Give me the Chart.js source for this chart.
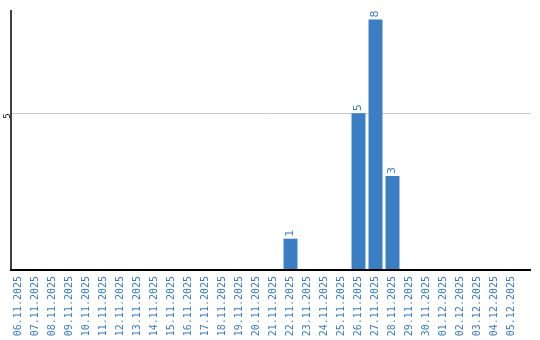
<!DOCTYPE html>
<html>
<head>
<meta charset="utf-8">
<script src="https://cdn.jsdelivr.net/npm/chart.js@4/dist/chart.umd.min.js"></script>
<style>
html,body{margin:0;padding:0;background:#fff;}
#wrap{width:540px;height:340px;position:relative;}
</style>
</head>
<body>
<div id="wrap"><canvas id="c" width="540" height="340"></canvas></div>
<script>
const categories = ["06.11.2025","07.11.2025","08.11.2025","09.11.2025","10.11.2025","11.11.2025","12.11.2025","13.11.2025","14.11.2025","15.11.2025","16.11.2025","17.11.2025","18.11.2025","19.11.2025","20.11.2025","21.11.2025","22.11.2025","23.11.2025","24.11.2025","25.11.2025","26.11.2025","27.11.2025","28.11.2025","29.11.2025","30.11.2025","01.12.2025","02.12.2025","03.12.2025","04.12.2025","05.12.2025"];
const values = [0,0,0,0,0,0,0,0,0,0,0,0,0,0,0,0,1,0,0,0,5,8,3,0,0,0,0,0,0,0];
const yTicks = [5];

const barColor = '#3b7ec3';
const labelColor = '#3a7bbf';

const extraLines = {
  id: 'extraLines',
  beforeDatasetsDraw(chart) {
    const ctx = chart.ctx, a = chart.chartArea, y = chart.scales.y;
    const right = a.left + 521;
    ctx.save();
    ctx.strokeStyle = '#c8c8c8';
    ctx.lineWidth = 1;
    yTicks.forEach(v => {
      const py = Math.round(y.getPixelForValue(v)) + 0.5;
      ctx.beginPath(); ctx.moveTo(a.left, py); ctx.lineTo(right, py); ctx.stroke();
    });
    ctx.restore();
  },
  afterDatasetsDraw(chart) {
    const ctx = chart.ctx, a = chart.chartArea, y = chart.scales.y;
    const right = a.left + 521;
    ctx.save();
    ctx.strokeStyle = '#000';
    const py0 = Math.round(y.getPixelForValue(0));
    ctx.lineWidth = 2;
    ctx.beginPath(); ctx.moveTo(a.left, py0); ctx.lineTo(right, py0); ctx.stroke();
    ctx.lineWidth = 1.5;
    ctx.beginPath(); ctx.moveTo(a.left + 1, a.top); ctx.lineTo(a.left + 1, py0); ctx.stroke();
    ctx.fillStyle = labelColor;
    ctx.font = '11px "DejaVu Sans"';
    ctx.textAlign = 'left';
    ctx.textBaseline = 'middle';
    const meta = chart.getDatasetMeta(0);
    meta.data.forEach((bar, i) => {
      const v = values[i];
      if (!v) return;
      ctx.save();
      ctx.translate(bar.x, bar.y - 2);
      ctx.rotate(-Math.PI / 2);
      ctx.fillText(String(v), 0, 0);
      ctx.restore();
    });
    ctx.restore();
  }
};

new Chart(document.getElementById('c'), {
  type: 'bar',
  data: {
    labels: categories,
    datasets: [{
      data: values,
      backgroundColor: barColor,
      borderWidth: 0,
      categoryPercentage: 1,
      barPercentage: 0.82
    }]
  },
  options: {
    responsive: false,
    animation: false,
    devicePixelRatio: 1,
    layout: { padding: { top: 10, right: 20, left: 0, bottom: 0 } },
    plugins: { legend: { display: false }, tooltip: { enabled: false } },
    scales: {
      x: {
        grid: { display: false, drawTicks: false },
        border: { display: false },
        ticks: {
          color: labelColor,
          font: { family: '"DejaVu Sans Mono"', size: 10 },
          minRotation: 90, maxRotation: 90,
          autoSkip: false,
          padding: 6
        },
        afterFit(s) { s.height = 70; }
      },
      y: {
        min: 0, max: 8.3,
        grid: { display: false, drawTicks: false },
        border: { display: false },
        afterBuildTicks(s) { s.ticks = yTicks.map(v => ({ value: v })); },
        ticks: {
          color: '#000',
          font: { family: '"DejaVu Sans"', size: 8 },
          minRotation: 90, maxRotation: 90,
          padding: 2
        },
        afterFit(s) { s.width = 10; }
      }
    }
  },
  plugins: [extraLines]
});
</script>
</body>
</html>
